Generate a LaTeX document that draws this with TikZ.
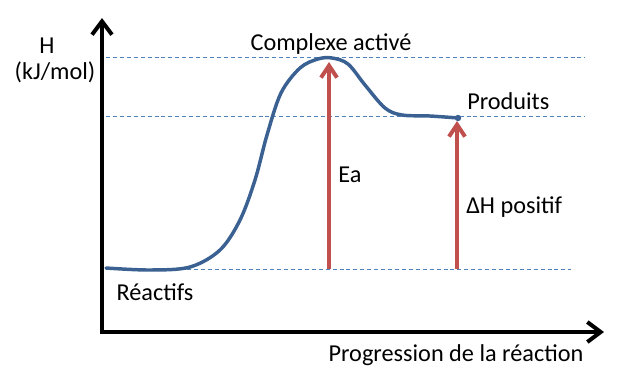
\documentclass[tikz,border=0pt]{standalone}
\usepackage{fontspec}
\setmainfont{Carlito}
\usepackage{tikz}
\usetikzlibrary{arrows.meta,positioning}

\begin{document}
\begin{tikzpicture}[x=0.75pt,y=-0.75pt,font=\fontsize{18.2}{21}\selectfont]
\definecolor{courbe}{HTML}{3B6192}
\definecolor{fleche}{HTML}{C0504D}
\definecolor{niveau}{HTML}{4F81BD}
\tikzstyle{axe}=[line width=3pt, -{Straight Barb[length=10pt,width=15pt,line width=3pt]}]
\tikzstyle{ecart}=[fleche, line width=3pt, -{Straight Barb[length=9pt,width=12pt,line width=3pt]}]
\tikzstyle{niv}=[niveau, line width=0.75pt, dash pattern=on 3pt off 2.2pt]
\tikzstyle{lbl}=[inner sep=0pt]
\useasboundingbox (0,0) rectangle (620,383);
% axes
\coordinate (O) at (102,332);
\coordinate (ytip) at (102,18);
\coordinate (xtip) at (604,332);
\draw[axe] ([yshift=-1.5pt]O) -- (ytip);
\draw[axe] ([xshift=-1.5pt]O) -- (xtip);
% niveaux d'enthalpie
\coordinate (haut0) at (106,57);  \coordinate (haut1) at (585,57);
\coordinate (mil0) at (106,116);  \coordinate (mil1) at (585,116);
\coordinate (bas0) at (187,269);  \coordinate (bas1) at (571,269);
\draw[niv] (haut0) -- (haut1);
\draw[niv] (mil0) -- (mil1);
\draw[niv] (bas0) -- (bas1);
% courbe de reaction
\coordinate (prod) at (458,118);
\draw[courbe, line width=2.6pt, line cap=round] plot[smooth, tension=0.55] coordinates {
(106,268) (150,270) (190,267) (220,250) (240,220) (255,180) (267,135)
(281,93) (300,68) (318,59) (332,58) (348,64) (365,85) (385,108)
(402,115) (430,116) (prod)};
\fill[courbe] (prod) circle (2.4pt);
% fleches
\coordinate (eabas) at (329,269);  \coordinate (eahaut) at (329,62);
\coordinate (dhbas) at (457,269);  \coordinate (dhhaut) at (457,121);
\draw[ecart] (eabas) -- (eahaut);
\draw[ecart] (dhbas) -- (dhhaut);
% textes
\node[lbl] (h) at (47,46) {H};
\node[lbl] (unite) at (55,72) {(kJ/mol)};
\node[lbl] (complexe) at (331,44) {Complexe activé};
\node[lbl, anchor=west] (produits) at (467,101) {Produits};
\node[lbl] (ea) at (350,175) {Ea};
\node[lbl, anchor=west] (dh) at (466,207) {ΔH positif};
\node[lbl] (reactifs) at (155,292) {Réactifs};
\node[lbl] (progression) at (456,355) {Progression de la réaction};
\end{tikzpicture}
\end{document}
